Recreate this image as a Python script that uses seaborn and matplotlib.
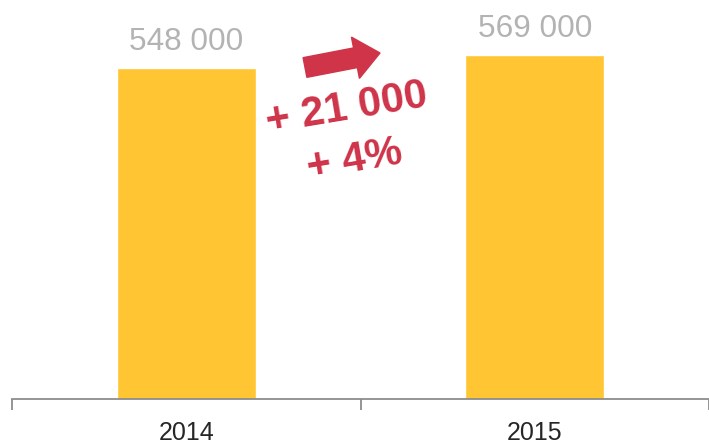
import matplotlib
matplotlib.use('Agg')
import matplotlib.pyplot as plt
import seaborn as sns
import pandas as pd
from matplotlib.patches import FancyArrow

# Data
years = ['2014', '2015']
counts = [548000, 569000]
count_labels = ['548 000', '569 000']
diff_label = '+ 21 000'
pct_label = '+ 4%'

df = pd.DataFrame({'year': years, 'count': counts})

sns.set_style('white')
plt.rcParams['font.family'] = ['Liberation Sans', 'DejaVu Sans']

fig = plt.figure(figsize=(7.09, 4.43), dpi=100)
ax = fig.add_axes([12 / 709, 44 / 443, 697 / 709, 399 / 443])

sns.barplot(data=df, x='year', y='count', color='#FFC533', width=0.4,
            saturation=1, ax=ax)

ax.set_xlim(-0.5, 1.5)
ax.set_ylim(0, 660600)
ax.set_xlabel('')
ax.set_ylabel('')
ax.set_yticks([])

for s in ['left', 'top', 'right']:
    ax.spines[s].set_visible(False)
ax.spines['bottom'].set_color('#8c8c8c')
ax.spines['bottom'].set_linewidth(1.3)
ax.spines['bottom'].set_clip_on(False)

# separators between categories
ax.set_xticks([-0.5, 0.5, 1.5], minor=True)
ax.tick_params(axis='x', which='minor', bottom=True, direction='out', length=8,
               width=1.3, color='#8c8c8c')
ax.tick_params(axis='x', which='major', length=0, pad=15.5,
               labelsize=18, labelcolor='#262626')

# value labels above the bars
for i, (v, lab) in enumerate(zip(counts, count_labels)):
    ax.annotate(lab, (i, v), xytext=(0, 13), textcoords='offset points',
                ha='center', va='baseline', fontsize=22.7, color='#b3b3b3')

# change annotation
red = '#cf3449'
fig.text(347 / 709, 1 - 109 / 443, diff_label, rotation=9.5, rotation_mode='anchor',
         ha='center', va='center', fontsize=30, fontweight='bold', color=red)
fig.text(355 / 709, 1 - 160 / 443, pct_label, rotation=9.5, rotation_mode='anchor',
         ha='center', va='center', fontsize=30, fontweight='bold', color=red)

arrow = FancyArrow(3.05, 3.755, 0.75, 0.145, width=0.2, head_width=0.42,
                   head_length=0.25, length_includes_head=True,
                   color=red, transform=fig.dpi_scale_trans)
fig.patches.append(arrow)

plt.savefig('out.png', dpi=100)
